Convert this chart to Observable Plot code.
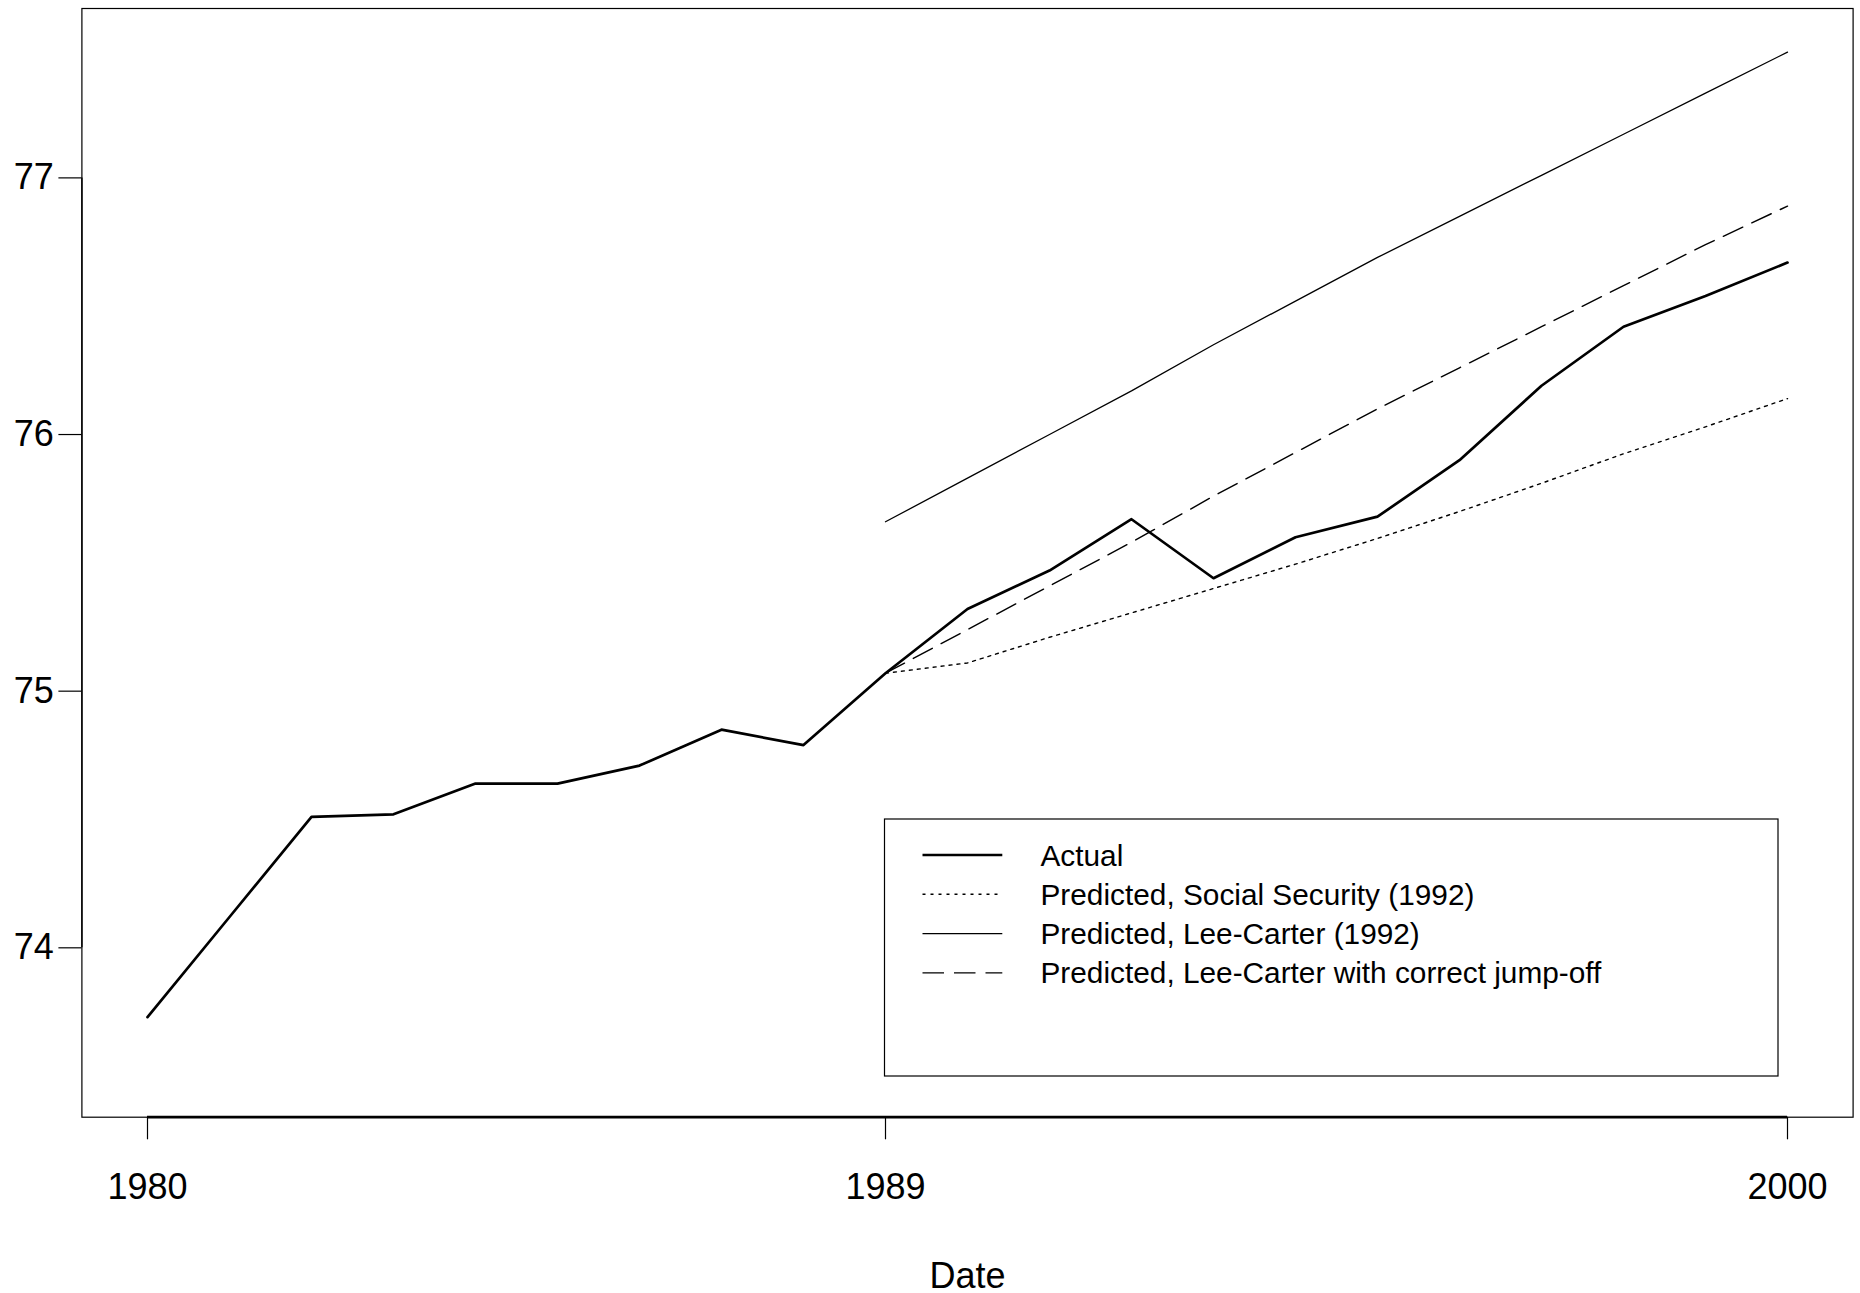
<!DOCTYPE html>
<html><head><meta charset="utf-8">
<script src="https://cdn.jsdelivr.net/npm/d3@7"></script>
<script src="https://cdn.jsdelivr.net/npm/@observablehq/plot@0.6"></script>
<style>
body{margin:0;background:#fff;}
#chart{position:relative;width:1860px;height:1293px;font-family:"Liberation Sans",Arial,Helvetica,sans-serif;}
#legend{position:absolute;left:0;top:0;}
</style></head><body><div id="chart"></div>
<script>
// ---- data ----
const actualYears = [1980,1981,1982,1983,1984,1985,1986,1987,1988,1989,1990,1991,1992,1993,1994,1995,1996,1997,1998,1999,2000];
const actualValues = [73.73,74.12,74.51,74.52,74.64,74.64,74.71,74.85,74.79,75.07,75.32,75.47,75.67,75.44,75.60,75.68,75.90,76.19,76.42,76.54,76.67];
const forecastYears = [1989,1990,1991,1992,1993,1994,1995,1996,1997,1998,1999,2000];
const socialSecurity = [75.07,75.11,75.21,75.305,75.40,75.495,75.595,75.70,75.81,75.925,76.03,76.14];
const leeCarter = [75.66,75.83,76.00,76.17,76.35,76.52,76.69,76.85,77.01,77.17,77.33,77.49];
const leeCarterJump = [75.07,75.24,75.41,75.58,75.76,75.93,76.10,76.26,76.42,76.58,76.74,76.89];
const xTicks = [1980,1989,2000];
const yTicks = [74,75,76,77];
const xDomain = [1979.2,2000.8];
const yDomain = [73.34,77.66];
const legendLabels = ["Actual","Predicted, Social Security (1992)","Predicted, Lee-Carter (1992)","Predicted, Lee-Carter with correct jump-off"];

const actual = actualYears.map((y,i)=>({year:y,value:actualValues[i]}));
const ssa = forecastYears.map((y,i)=>({year:y,value:socialSecurity[i]}));
const lc = forecastYears.map((y,i)=>({year:y,value:leeCarter[i]}));
const lcj = forecastYears.map((y,i)=>({year:y,value:leeCarterJump[i]}));

const styles = [
  {strokeWidth:2.7, dash:null},
  {strokeWidth:1.4, dash:"3,5"},
  {strokeWidth:1.3, dash:null},
  {strokeWidth:1.4, dash:"21.5,10"}
];

const chart = Plot.plot({
  width:1860, height:1293,
  marginLeft:81.4, marginRight:7.4, marginTop:8, marginBottom:176.3,
  style:{fontFamily:"Liberation Sans, Arial, Helvetica, sans-serif", background:"white", color:"black", overflow:"visible"},
  x:{domain:xDomain},
  y:{domain:yDomain},
  marks:[
    Plot.frame({stroke:"#000", strokeWidth:1.2}),
    Plot.line(ssa,{x:"year",y:"value",stroke:"#000",strokeWidth:styles[1].strokeWidth,strokeDasharray:styles[1].dash}),
    Plot.line(lc,{x:"year",y:"value",stroke:"#000",strokeWidth:styles[2].strokeWidth}),
    Plot.line(lcj,{x:"year",y:"value",stroke:"#000",strokeWidth:styles[3].strokeWidth,strokeDasharray:styles[3].dash}),
    Plot.line(actual,{x:"year",y:"value",stroke:"#000",strokeWidth:styles[0].strokeWidth}),
    Plot.axisX(xTicks,{tickSize:22.6,tickPadding:34,fontSize:36,tickFormat:d=>String(d),label:null,strokeWidth:1.2}),
    Plot.ruleY([yDomain[0]],{x1:xTicks[0],x2:xTicks[xTicks.length-1],stroke:"#000",strokeWidth:2.7}),
    Plot.axisY(yTicks,{tickSize:23,tickPadding:5,fontSize:36,tickFormat:d=>String(d),label:null,strokeWidth:1.2}),
    Plot.ruleX([xDomain[0]],{y1:yTicks[0],y2:yTicks[yTicks.length-1],stroke:"#000",strokeWidth:1.4}),
    Plot.text(["Date"],{text:d=>d,frameAnchor:"bottom",lineAnchor:"top",dy:145.3,fontSize:36,fill:"#000"})
  ]
});
const container = document.getElementById("chart");
container.appendChild(chart);

// ---- legend (boxed, inside plot area) ----
const box = {left:884.5, top:819, width:893.5, height:257};
const lg = d3.select(container).append("svg")
  .attr("id","legend").attr("width",1860).attr("height",1293)
  .style("pointer-events","none");
lg.append("rect").attr("x",box.left).attr("y",box.top).attr("width",box.width).attr("height",box.height)
  .attr("fill","white").attr("stroke","#000").attr("stroke-width",1.2);
const rowY = i => box.top + 36 + i*39.3;
legendLabels.forEach((lab,i)=>{
  lg.append("line").attr("x1",box.left+38).attr("x2",box.left+117.8)
    .attr("y1",rowY(i)).attr("y2",rowY(i))
    .attr("stroke","#000").attr("stroke-width",styles[i].strokeWidth)
    .attr("stroke-dasharray",styles[i].dash);
  lg.append("text").attr("x",box.left+156).attr("y",rowY(i)+10.5)
    .attr("font-size",29.8).attr("font-family","Liberation Sans, Arial, Helvetica, sans-serif")
    .attr("fill","#000").text(lab);
});
</script></body></html>
